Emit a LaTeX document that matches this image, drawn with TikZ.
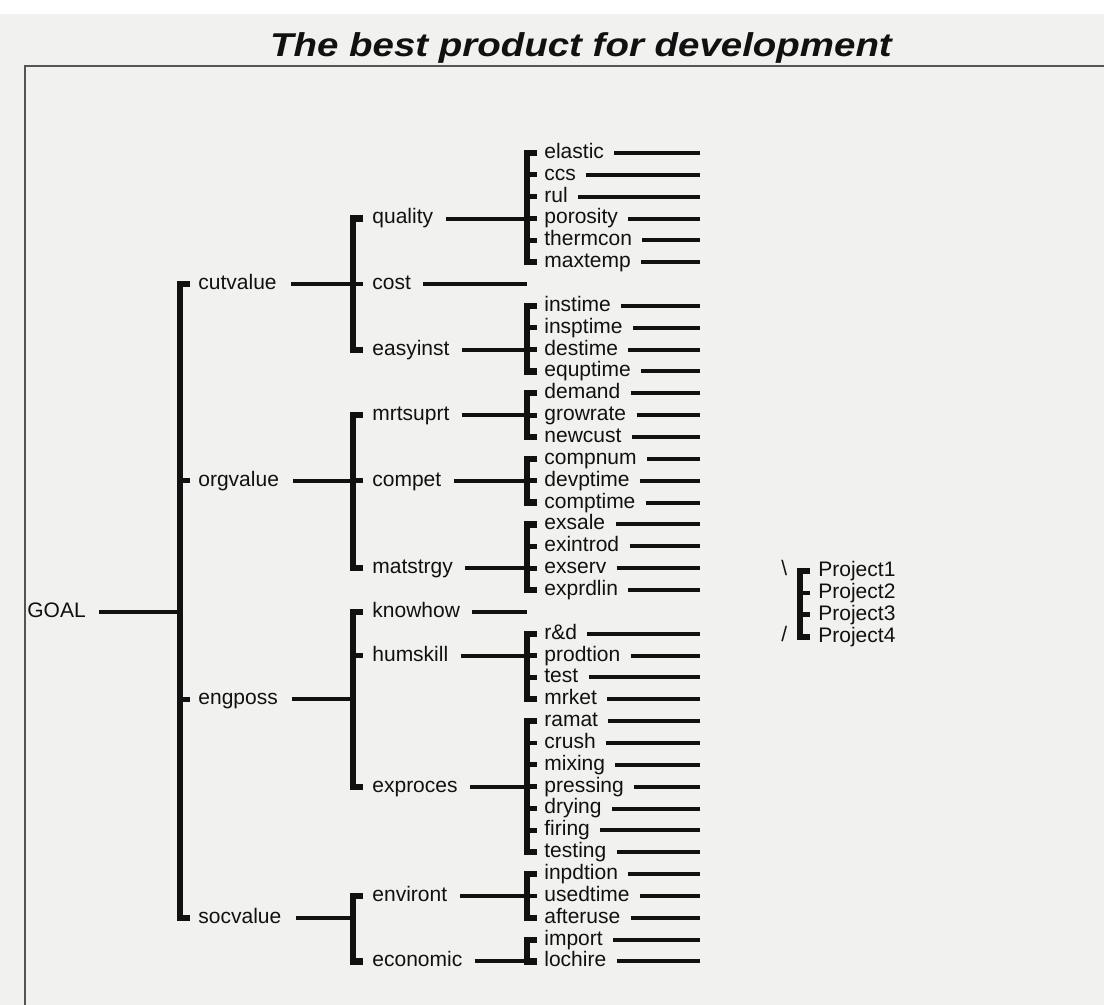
\documentclass[tikz,border=0pt]{standalone}
\usepackage{fontspec}
\usepackage{graphicx}
\setmainfont{Liberation Sans}
\usetikzlibrary{calc}

\definecolor{paper}{RGB}{241,241,239}
\definecolor{ink}{RGB}{17,17,17}
\definecolor{rule}{RGB}{85,85,85}

% row position of the i-th line of the hierarchy (pixel units, y downwards)
\newcommand\R[1]{153+21.85*#1}

% bracket: thick bar in column #1 from node #2 to node #3, short ticks for #4
\newcommand\bracketbar[4]{%
  \draw[bar] (#1 |- #2.west) ++(10,0) -- (#1 |- #2.west) -- (#1 |- #3.west) -- ++(10,0);
  \foreach \m in {#4}{\draw[tick] (#1 |- \m.west) -- ++(10,0);}%
}
\newcommand\bracketpair[3]{%
  \draw[bar] (#1 |- #2.west) ++(10,0) -- (#1 |- #2.west) -- (#1 |- #3.west) -- ++(10,0);
}

\begin{document}
\begin{tikzpicture}[x=0.5pt,y=-0.5pt,
  lab/.style={anchor=west, inner sep=0pt, text height=5.45pt, text depth=0pt,
              text=ink, font=\fontsize{10.5pt}{12pt}\selectfont},
  bar/.style={draw=ink, line width=3.1pt, line cap=butt, line join=miter},
  tick/.style={draw=ink, line width=2.4pt, line cap=butt},
  conn/.style={draw=ink, line width=2pt, line cap=butt},
  frame/.style={draw=rule, line width=0.8pt}]

% paper and frame
\fill[paper] (0,0) rectangle (1104,1005);
\fill[white] (0,0) rectangle (1104,14);
\useasboundingbox (0,0) rectangle (1104,1005);
\draw[frame] (1104,66) -- (25,66) -- (25,1005);

% title
\node[anchor=base, inner sep=0pt, text=ink] (title) at (581,57)
  {\scalebox{1.165}[1]{\fontsize{16.5pt}{18pt}\selectfont\bfseries\itshape The best product for development}};

% column positions of the bars and the end of the leaf lines
\coordinate (b1) at (180,0);
\coordinate (b2) at (353,0);
\coordinate (b3) at (527,0);
\coordinate (b4) at (800,0);
\coordinate (leafend) at (700,0);

% goal and first level
\node[lab] (goal) at (27,\R{21}) {GOAL};
\foreach \n/\r in {cutvalue/6, orgvalue/15, engposs/25, socvalue/35}
  \node[lab] (\n) at (198,\R{\r}) {\n};

% second level
\foreach \n/\r in {quality/3, cost/6, easyinst/9, mrtsuprt/12, compet/15, matstrgy/19,
                   knowhow/21, humskill/23, exproces/29, environt/34, economic/37}
  \node[lab] (\n) at (372,\R{\r}) {\n};

% criteria at the third level, each with its line
\foreach \n/\t/\r in {elastic/elastic/0, ccs/ccs/1, rul/rul/2, porosity/porosity/3,
    thermcon/thermcon/4, maxtemp/maxtemp/5, instime/instime/7, insptime/insptime/8,
    destime/destime/9, equptime/equptime/10, demand/demand/11, growrate/growrate/12,
    newcust/newcust/13, compnum/compnum/14, devptime/devptime/15, comptime/comptime/16,
    exsale/exsale/17, exintrod/exintrod/18, exserv/exserv/19, exprdlin/exprdlin/20,
    rd/r\&d/22, prodtion/prodtion/23, test/test/24, mrket/mrket/25, ramat/ramat/26,
    crush/crush/27, mixing/mixing/28, pressing/pressing/29, drying/drying/30,
    firing/firing/31, testing/testing/32, inpdtion/inpdtion/33, usedtime/usedtime/34,
    afteruse/afteruse/35, import/import/36, lochire/lochire/37}
{
  \node[lab] (\n) at (544,\R{\r}) {\t};
  \draw[conn] ([xshift=5pt]\n.east) -- (\n.east -| leafend);
}

% alternatives
\foreach \i/\r in {1/19, 2/20, 3/21, 4/22}
  \node[lab] (project\i) at (818,\R{\r}+3) {Project\i};
\node[lab] (bs) at (781,\R{19}+2) {\textbackslash};
\node[lab] (sl) at (781,\R{22}+2) {/};

% connectors into the bars
\draw[conn] ([xshift=6.5pt]goal.east) -- (b1 |- goal.east);
\foreach \n in {cutvalue, orgvalue, engposs, socvalue}
  \draw[conn] ([xshift=7pt]\n.east) -- (b2 |- \n.east);
\foreach \n in {quality, cost, easyinst, mrtsuprt, compet, matstrgy,
                knowhow, humskill, exproces, environt, economic}
  \draw[conn] ([xshift=6pt]\n.east) -- (b3 |- \n.east);

% brackets
\bracketbar{b1}{cutvalue}{socvalue}{orgvalue, engposs}
\bracketbar{b2}{quality}{easyinst}{cost}
\bracketbar{b2}{mrtsuprt}{matstrgy}{compet}
\bracketbar{b2}{knowhow}{exproces}{humskill}
\bracketpair{b2}{environt}{economic}
\bracketbar{b3}{elastic}{maxtemp}{ccs, rul, porosity, thermcon}
\bracketbar{b3}{instime}{equptime}{insptime, destime}
\bracketbar{b3}{demand}{newcust}{growrate}
\bracketbar{b3}{compnum}{comptime}{devptime}
\bracketbar{b3}{exsale}{exprdlin}{exintrod, exserv}
\bracketbar{b3}{rd}{mrket}{prodtion, test}
\bracketbar{b3}{ramat}{testing}{crush, mixing, pressing, drying, firing}
\bracketbar{b3}{inpdtion}{afteruse}{usedtime}
\bracketpair{b3}{import}{lochire}
\bracketbar{b4}{project1}{project4}{project2, project3}

\end{tikzpicture}
\end{document}
